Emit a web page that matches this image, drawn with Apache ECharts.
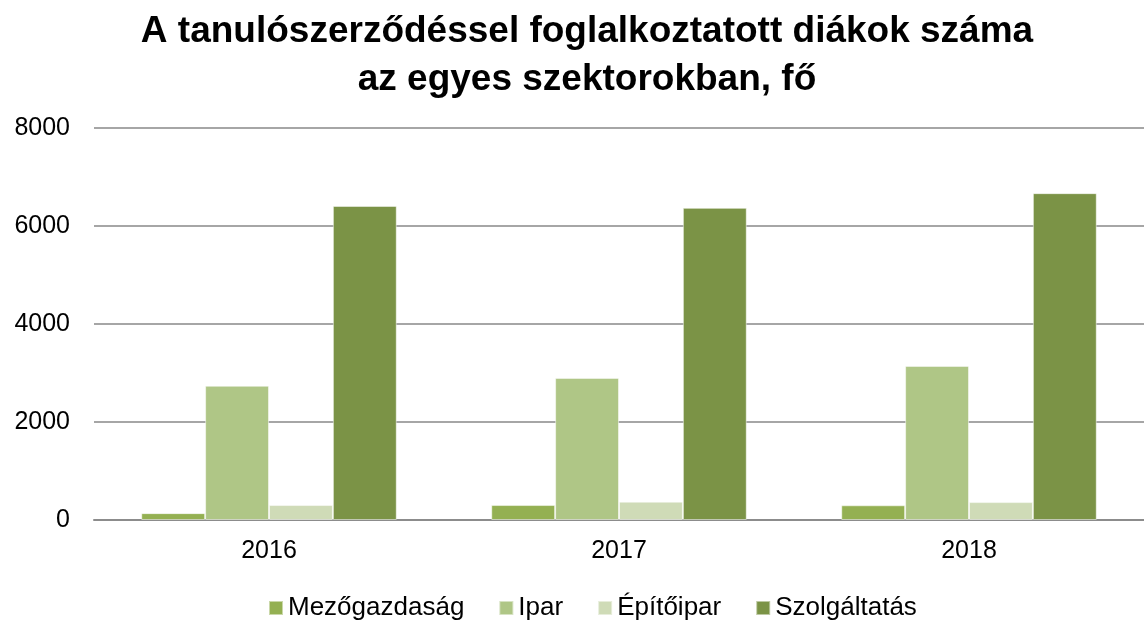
<!DOCTYPE html>
<html>
<head>
<meta charset="utf-8">
<script src="https://cdn.jsdelivr.net/npm/echarts@6/dist/echarts.min.js"></script>
<style>
  html, body { margin: 0; padding: 0; background: #fff; }
  #chart { width: 1144px; height: 620px; }
</style>
</head>
<body>
<div id="chart"></div>
<script>
// évek
var years = ['2016', '2017', '2018'];
// szektorok
var sectors = ['Mezőgazdaság', 'Ipar', 'Építőipar', 'Szolgáltatás'];
// értékek szektoronként
var mezogazdasag = [140, 305, 300];
var ipar = [2740, 2900, 3145];
var epitoipar = [305, 375, 365];
var szolgaltatas = [6410, 6370, 6670];
var yTicks = [0, 2000, 4000, 6000, 8000];

var colors = ['#94B052', '#AFC686', '#CFDBB7', '#7B9346'];
var values = [mezogazdasag, ipar, epitoipar, szolgaltatas];
var font = 'Liberation Sans, Arial, sans-serif';

var chart = echarts.init(document.getElementById('chart'));

var series = [];
for (var i = 0; i < sectors.length; i++) {
    series.push({
        name: sectors[i],
        type: 'bar',
        data: values[i],
        barGap: '0%',
        barCategoryGap: '27%',
        itemStyle: {
            color: colors[i],
            borderColor: 'rgba(255,255,255,0.5)',
            borderWidth: 1
        }
    });
}

var option = {
    animation: false,
    color: colors,
    title: {
        text: 'A tanulószerződéssel foglalkoztatott diákok száma\naz egyes szektorokban, fő',
        left: 587,
        top: 8,
        padding: 0,
        textAlign: 'center',
        textStyle: {
            fontFamily: font,
            fontWeight: 'bold',
            fontSize: 37,
            lineHeight: 48,
            color: '#000'
        }
    },
    legend: {
        top: 595,
        left: 268,
        padding: 0,
        itemWidth: 14,
        itemHeight: 14,
        itemGap: 34,
        icon: 'rect',
        textStyle: {
            fontFamily: font,
            fontSize: 26,
            color: '#000'
        },
        data: sectors
    },
    grid: {
        left: 94,
        right: 0,
        top: 128,
        bottom: 100
    },
    xAxis: {
        type: 'category',
        data: years,
        axisTick: { show: false },
        axisLine: { lineStyle: { color: '#8c8c8c', width: 2 } },
        axisLabel: {
            color: '#000',
            fontSize: 25,
            fontFamily: font,
            margin: 19
        }
    },
    yAxis: {
        type: 'value',
        min: yTicks[0],
        max: yTicks[yTicks.length - 1],
        interval: 2000,
        axisLine: { show: false },
        axisTick: { show: false },
        splitLine: { lineStyle: { color: '#a6a6a6', width: 2 } },
        axisLabel: {
            color: '#000',
            fontSize: 25,
            fontFamily: font,
            margin: 24,
            formatter: function (v) { return String(v); }
        }
    },
    series: series
};

chart.setOption(option);
</script>
</body>
</html>
